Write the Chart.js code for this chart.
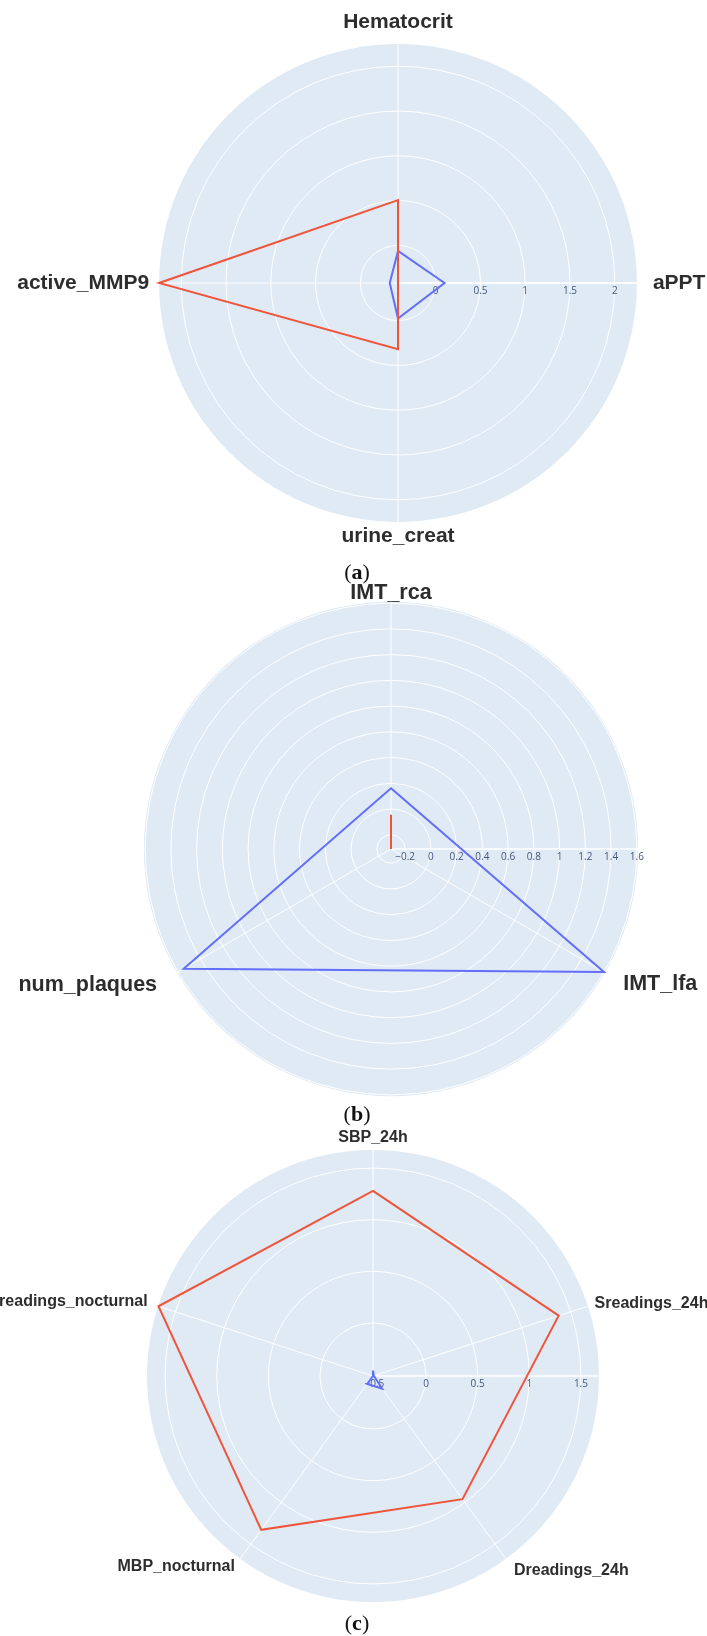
<!DOCTYPE html>
<html lang="en">
<head>
<meta charset="utf-8">
<title>Radar charts (a) (b) (c)</title>
<script src="https://cdn.jsdelivr.net/npm/chart.js@4.4.1/dist/chart.umd.min.js"></script>
<style>
    html, body { margin: 0; padding: 0; background: #ffffff; }
    body { position: relative; width: 707px; height: 1636px; overflow: hidden; }
    canvas { position: absolute; }
    #radarA { left: -22px; top: -12px; }
    #radarB { left: -9px; top: 558px; }
    #radarC { left: -37px; top: 1101px; }
    .legende {
        position: absolute;
        width: 80px;
        text-align: center;
        font-family: 'Liberation Serif', 'DejaVu Serif', serif;
        font-size: 22px;
        line-height: 22px;
        color: #111111;
    }
</style>
</head>
<body>
<canvas id="radarA" width="840" height="584"></canvas>
<canvas id="radarB" width="800" height="574"></canvas>
<canvas id="radarC" width="820" height="538"></canvas>
<div class="legende" style="left:317px; top:561px;">(<b>a</b>)</div>
<div class="legende" style="left:317px; top:1103px;">(<b>b</b>)</div>
<div class="legende" style="left:317px; top:1612px;">(<b>c</b>)</div>

<script>
// Données (ordre des axes : sens horaire depuis le haut)

// (a)
const labelsA = ['Hematocrit', 'aPPT', 'urine_creat', 'active_MMP9'];
const rougeA = [0.506, -0.42, 0.32, 2.247];
const bleuA = [-0.062, 0.099, -0.024, -0.328];
const ticksA = [0, 0.5, 1, 1.5, 2];
const tickLabelsA = ['0', '0.5', '1', '1.5', '2'];
const bornesA = [-0.42, 2.247];

// (b)
const labelsB = ['IMT_rca', 'IMT_lfa', 'num_plaques'];
const rougeB = [-0.044, -0.31, -0.31];
const bleuB = [0.162, 1.60, 1.55];
const ticksB = [-0.2, 0, 0.2, 0.4, 0.6, 0.8, 1, 1.2, 1.4, 1.6];
const tickLabelsB = ['\u22120.2', '0', '0.2', '0.4', '0.6', '0.8', '1', '1.2', '1.4', '1.6'];
const bornesB = [-0.31, 1.61];

// (c)
const labelsC = ['SBP_24h', 'Sreadings_24h', 'Dreadings_24h', 'MBP_nocturnal', 'Sreadings_nocturnal'];
const rougeC = [1.28, 1.377, 0.961, 1.328, 1.671];
const bleuC = [-0.46, -0.505, -0.362, -0.418, -0.513];
const ticksC = [-0.5, 0, 0.5, 1, 1.5];
const tickLabelsC = ['\u22120.5', '0', '0.5', '1', '1.5'];
const bornesC = [-0.513, 1.675];

document.addEventListener("DOMContentLoaded", function () {
    const couleurRouge = '#EF553B';
    const couleurBleue = '#636EFA';
    // marge ajoutée en haut et en bas du canvas pour ne pas couper les libellés
    const margeCanvas = 30;

    // Axe radial horizontal (vers la droite) + étiquettes des graduations
    const axeRadial = {
        id: 'axeRadial',
        beforeDatasetsDraw(chart, args, opts) {
            const r = chart.scales.r;
            const ctx = chart.ctx;
            ctx.save();
            ctx.strokeStyle = '#ffffff';
            ctx.lineWidth = 1.5;
            ctx.beginPath();
            ctx.moveTo(r.xCenter, r.yCenter);
            ctx.lineTo(r.xCenter + r.drawingArea, r.yCenter);
            ctx.stroke();

            ctx.fillStyle = '#44567a';
            ctx.font = '10px "Open Sans", sans-serif';
            ctx.textAlign = 'center';
            ctx.textBaseline = 'middle';
            r.ticks.forEach((tick, i) => {
                const d = r.getDistanceFromCenterForValue(tick.value);
                ctx.fillText(opts.labels[i], r.xCenter + d, r.yCenter + 8);
            });
            ctx.restore();
        }
    };

    function creerRadar(idCanvas, labels, rouge, bleu, ticks, tickLabels, bornes, taillePolice, marges) {
        const ctx = document.getElementById(idCanvas).getContext("2d");
        return new Chart(ctx, {
            type: 'radar',
            data: {
                labels: labels,
                datasets: [{
                    label: 'rouge',
                    data: rouge,
                    borderColor: couleurRouge,
                    borderWidth: 2,
                    pointRadius: 0,
                    fill: false
                }, {
                    label: 'bleu',
                    data: bleu,
                    borderColor: couleurBleue,
                    borderWidth: 2,
                    pointRadius: 0,
                    fill: false
                }]
            },
            options: {
                responsive: false,
                animation: false,
                layout: { padding: { top: margeCanvas, bottom: margeCanvas } },
                elements: { line: { tension: 0 } },
                plugins: {
                    legend: { display: false },
                    tooltip: { enabled: false },
                    axeRadial: { labels: tickLabels }
                },
                scales: {
                    r: {
                        min: bornes[0],
                        max: bornes[1],
                        backgroundColor: '#dfeaf5',
                        grid: { circular: true, color: '#ffffff', lineWidth: 1 },
                        angleLines: { color: '#ffffff', lineWidth: 1 },
                        ticks: { display: false },
                        afterBuildTicks: (axe) => {
                            axe.ticks = ticks.map(v => ({ value: v }));
                        },
                        pointLabels: {
                            color: '#2d2d2d',
                            font: {
                                family: "'Liberation Sans', Arial, sans-serif",
                                size: taillePolice,
                                weight: 'bold',
                                lineHeight: 0.1
                            },
                            padding: (c) => marges[c.index]
                        }
                    }
                }
            },
            plugins: [axeRadial]
        });
    }

    creerRadar('radarA', labelsA, rougeA, bleuA, ticksA, tickLabelsA, bornesA, 21, [21, 16, 13, 10]);
    creerRadar('radarB', labelsB, rougeB, bleuB, ticksB, tickLabelsB, bornesB, 21.5, [7.7, 21, 23]);
    creerRadar('radarC', labelsC, rougeC, bleuC, ticksC, tickLabelsC, bornesC, 16, [11.4, 7, 13.8, 9, 11]);
});
</script>
</body>
</html>
